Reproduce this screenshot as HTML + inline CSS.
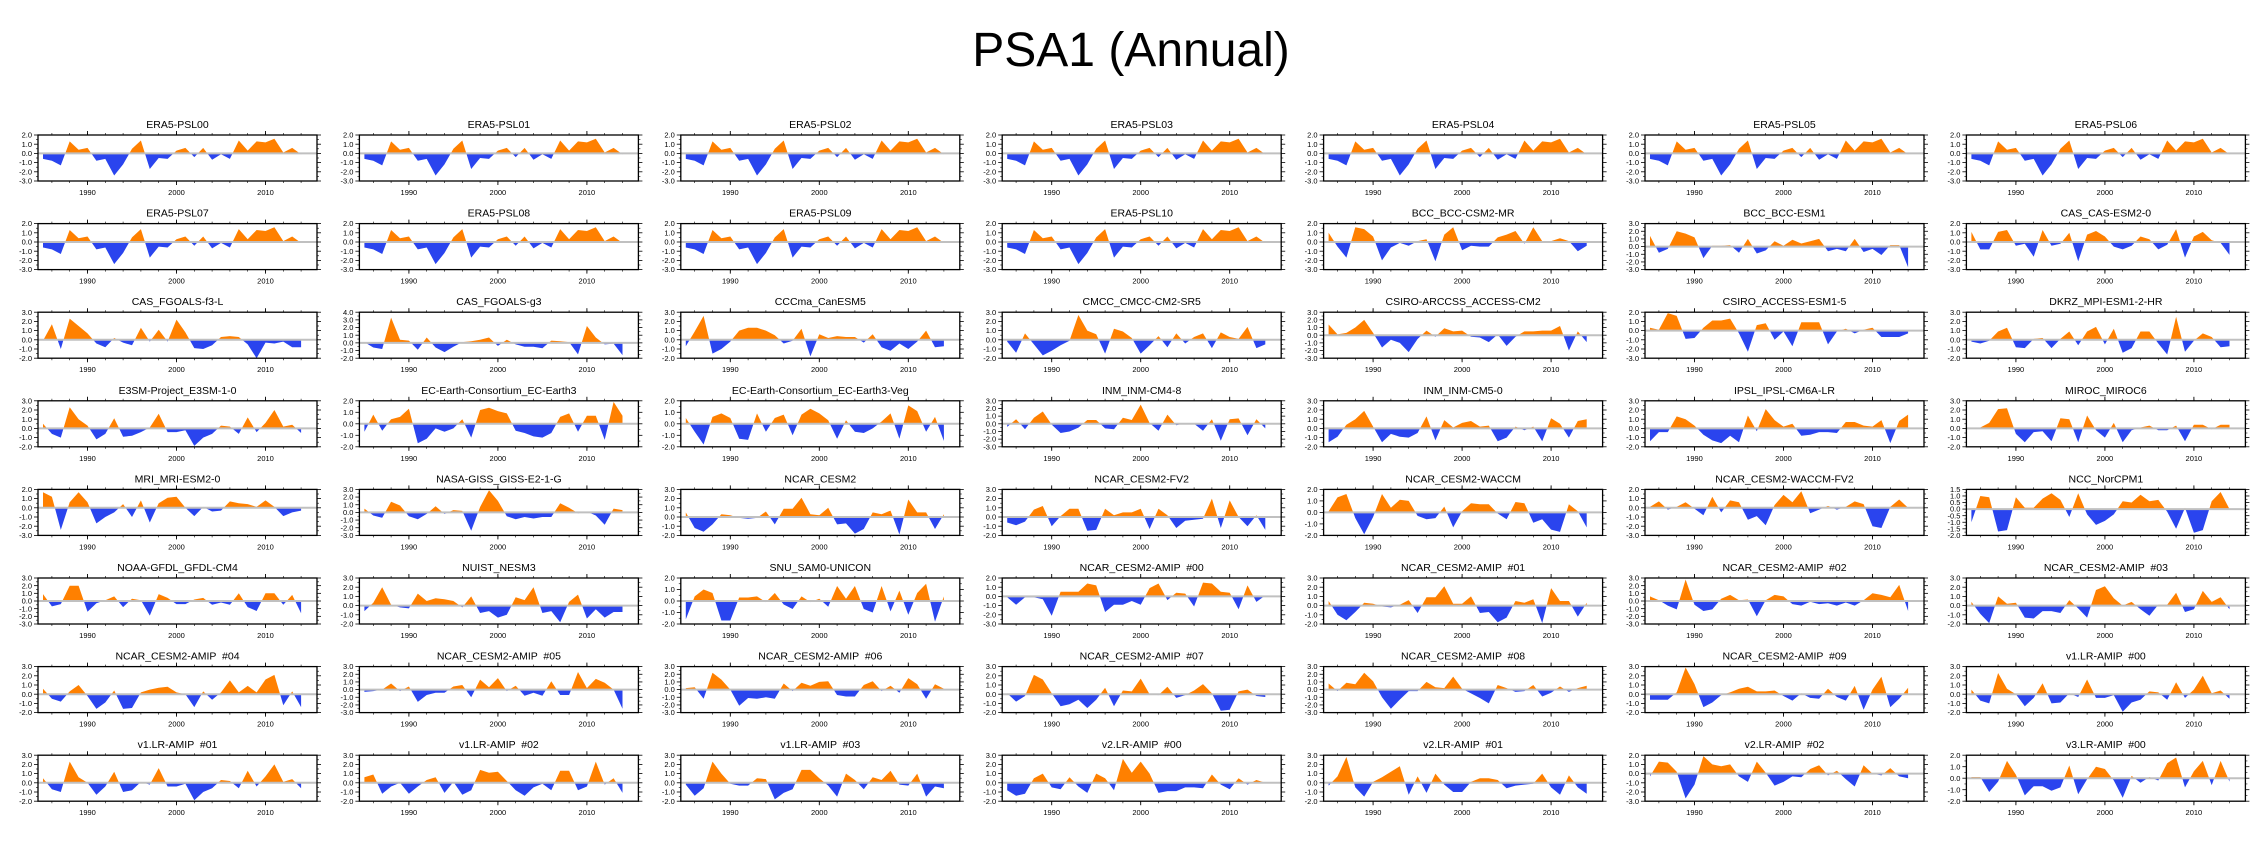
<!DOCTYPE html>
<html><head><meta charset="utf-8"><title>PSA1 (Annual)</title>
<style>
html,body{margin:0;padding:0;background:#fff;}
svg{display:block;font-family:"Liberation Sans",sans-serif;}
</style></head>
<body>
<svg id="chart" width="2265" height="849" viewBox="0 0 2265 849" xmlns="http://www.w3.org/2000/svg">
<text x="1131" y="66" text-anchor="middle" font-size="48" fill="#000">PSA1 (Annual)</text>
</svg>
<script>
const years = [1985,1986,1987,1988,1989,1990,1991,1992,1993,1994,1995,1996,1997,1998,1999,2000,2001,2002,2003,2004,2005,2006,2007,2008,2009,2010,2011,2012,2013,2014];
const yearTicks = [1990, 2000, 2010];
const panelTitles = [
"ERA5-PSL00","ERA5-PSL01","ERA5-PSL02","ERA5-PSL03","ERA5-PSL04","ERA5-PSL05","ERA5-PSL06",
"ERA5-PSL07","ERA5-PSL08","ERA5-PSL09","ERA5-PSL10","BCC_BCC-CSM2-MR","BCC_BCC-ESM1","CAS_CAS-ESM2-0",
"CAS_FGOALS-f3-L","CAS_FGOALS-g3","CCCma_CanESM5","CMCC_CMCC-CM2-SR5","CSIRO-ARCCSS_ACCESS-CM2","CSIRO_ACCESS-ESM1-5","DKRZ_MPI-ESM1-2-HR",
"E3SM-Project_E3SM-1-0","EC-Earth-Consortium_EC-Earth3","EC-Earth-Consortium_EC-Earth3-Veg","INM_INM-CM4-8","INM_INM-CM5-0","IPSL_IPSL-CM6A-LR","MIROC_MIROC6",
"MRI_MRI-ESM2-0","NASA-GISS_GISS-E2-1-G","NCAR_CESM2","NCAR_CESM2-FV2","NCAR_CESM2-WACCM","NCAR_CESM2-WACCM-FV2","NCC_NorCPM1",
"NOAA-GFDL_GFDL-CM4","NUIST_NESM3","SNU_SAM0-UNICON","NCAR_CESM2-AMIP  #00","NCAR_CESM2-AMIP  #01","NCAR_CESM2-AMIP  #02","NCAR_CESM2-AMIP  #03",
"NCAR_CESM2-AMIP  #04","NCAR_CESM2-AMIP  #05","NCAR_CESM2-AMIP  #06","NCAR_CESM2-AMIP  #07","NCAR_CESM2-AMIP  #08","NCAR_CESM2-AMIP  #09","v1.LR-AMIP  #00",
"v1.LR-AMIP  #01","v1.LR-AMIP  #02","v1.LR-AMIP  #03","v2.LR-AMIP  #00","v2.LR-AMIP  #01","v2.LR-AMIP  #02","v3.LR-AMIP  #00"];
const era5 = [-0.6,-0.8,-1.3,1.3,0.4,0.6,-0.8,-0.6,-2.4,-1.2,0.5,1.4,-1.7,-0.5,-0.6,0.3,0.6,-0.4,0.6,-0.7,-0.1,-0.6,1.4,0.3,1.3,1.2,1.6,0.1,0.6,-0.1];
const panelValues = [
era5,era5,era5,era5,era5,era5,era5,
era5,era5,era5,era5,
[1.0,-0.5,-1.7,1.6,1.4,0.6,-2.0,-0.6,-0.1,-0.4,0.1,0.3,-2.1,0.8,1.6,-0.9,-0.4,-0.5,-0.5,0.5,0.8,1.2,-0.2,1.6,0.1,0.1,0.4,0.1,-1.0,-0.4],
[1.4,-0.8,-0.3,2.0,1.7,1.2,-1.5,0.1,0.1,0.2,-0.8,1.0,-0.9,-0.5,0.7,0.1,0.9,0.4,0.7,1.0,-0.6,-0.3,-0.6,1.0,-0.7,-0.3,-1.1,0.2,0.2,-2.7],
[1.1,-0.8,-0.8,1.1,1.3,-0.4,-0.2,-1.6,1.3,-0.4,-0.2,1.0,-2.1,0.8,1.2,0.6,-0.5,-0.8,-0.4,0.6,0.3,-0.8,-0.3,1.4,-1.7,0.6,1.1,0.2,-0.1,-1.4],
[-0.1,1.7,-1.0,2.3,1.5,0.7,-0.4,-0.8,0.2,-0.3,-0.6,1.3,-0.2,1.1,-0.2,2.2,0.8,-0.9,-1.0,-0.6,0.3,0.4,0.3,-0.5,-2.0,-0.3,-0.4,-0.2,-0.8,-0.8],
[0.1,-0.6,-0.8,3.3,0.4,0.3,-0.9,0.7,-0.6,-1.2,-0.5,0.1,0.2,0.4,0.7,-0.4,0.4,-0.2,-0.5,-0.5,-0.7,0.3,0.2,0.1,-1.5,2.2,0.7,-0.2,-0.1,-1.6],
[-0.7,0.9,2.6,-1.5,-1.0,-0.2,1.0,1.3,1.3,1.0,0.5,-0.4,-0.1,1.2,-1.8,0.6,0.2,0.4,0.3,0.3,-0.3,0.6,-0.8,-1.2,-0.4,-1.0,-0.2,1.0,-0.8,-0.7],
[-0.2,-1.4,0.7,-0.5,-1.7,-1.2,-0.6,-0.1,2.7,1.0,0.6,-1.5,1.2,0.9,0.2,-1.5,-0.6,0.4,-0.8,0.7,-0.4,0.3,0.7,-0.9,0.8,0.3,0.1,1.4,-0.9,-0.5],
[1.4,0.1,0.3,1.0,2.0,0.3,-1.6,-0.6,-1.0,-2.2,-0.5,0.6,-0.2,0.9,0.5,0.6,-0.2,-0.3,-0.9,0.1,-1.4,-0.2,0.5,0.5,0.6,0.6,1.2,-2.0,0.5,-0.9],
[0.3,0.1,1.9,1.6,-0.9,-0.8,0.3,1.1,1.1,1.3,-0.3,-2.3,0.6,0.8,-1.0,-0.1,-1.7,0.9,0.9,0.9,-1.5,-0.1,0.2,-0.3,0.1,0.3,-0.7,-0.7,-0.7,-0.3],
[-0.2,-0.4,-0.1,0.9,1.3,-0.8,-0.9,0.1,0.2,-0.9,0.1,0.9,-0.6,0.9,1.4,-0.5,1.2,-1.4,-0.9,0.9,0.9,-0.4,-1.6,2.5,-1.3,-0.1,0.7,0.3,-0.8,-0.7],
[0.5,-0.6,-1.0,2.3,1.0,0.3,-1.2,-0.6,1.1,-0.9,-0.8,-0.4,0.1,1.6,-0.4,-0.4,-0.2,-1.9,-1.0,-0.6,0.3,0.2,-0.6,1.2,-0.4,0.6,2.0,0.2,0.4,-0.5],
[-0.7,0.8,-0.6,0.4,0.6,1.3,-1.7,-1.3,-0.4,-0.7,-0.4,0.4,-1.2,1.2,1.4,1.1,0.9,-0.6,-0.8,-1.1,-1.2,-0.8,0.6,0.9,-0.7,0.7,0.7,-1.4,1.9,0.7],
[0.5,-0.7,-1.8,0.6,0.9,0.5,-1.3,-1.4,0.9,-0.7,0.5,0.8,-1.0,0.8,1.3,0.9,0.3,-1.3,0.3,-0.7,-0.8,-0.4,0.2,0.9,-1.3,1.6,1.1,-0.7,0.6,-1.5],
[-0.4,0.6,-0.7,0.8,1.6,-0.1,-1.2,-1.0,-0.5,0.5,0.5,-0.6,-0.7,0.8,0.5,2.5,0.1,-0.9,1.2,-0.2,0.1,0.0,-0.9,0.6,-2.2,0.6,0.7,-1.5,0.6,-0.6],
[-1.5,-0.9,0.4,1.0,1.9,0.2,-1.5,-0.6,-0.9,-1.0,-0.5,1.3,-1.3,0.9,0.1,0.6,0.8,0.2,0.3,-1.4,-1.0,0.2,-0.2,0.2,-1.4,1.1,0.5,-1.0,0.8,1.0],
[-1.4,-0.4,-0.4,1.3,1.0,0.3,-0.7,-1.3,-1.6,-0.8,-1.5,1.4,-0.3,2.1,0.9,0.2,0.5,-0.8,-0.7,-0.4,-0.4,-0.5,0.7,0.7,0.3,0.2,0.9,-1.6,0.8,1.5],
[0.1,0.1,0.6,2.1,2.2,-0.6,-1.5,-0.4,-0.3,-1.4,1.1,1.0,-1.5,1.4,-0.2,-1.0,0.6,-1.5,-0.2,0.1,0.3,-0.2,-0.2,0.3,-1.4,0.4,0.4,-0.1,0.4,0.4],
[1.7,1.2,-2.4,0.6,1.7,0.6,-1.7,-1.0,-0.5,0.4,-1.0,0.8,-1.6,0.5,1.1,1.2,0.0,-0.9,0.1,-0.4,-0.3,0.7,0.5,0.4,0.1,0.8,0.1,-0.9,-0.5,-0.3],
[0.5,-0.4,-0.7,1.4,0.9,-0.5,-0.9,-0.2,0.8,-0.2,0.3,0.2,-2.4,0.7,2.9,1.5,-0.5,-0.9,-0.6,-0.8,-0.6,-0.6,1.2,0.6,-0.1,0.1,-0.4,-1.6,0.5,0.3],
[0.5,-1.2,-1.6,-0.8,0.3,0.2,-0.1,-0.2,-0.1,0.6,-0.8,0.9,0.9,2.1,0.3,0.2,1.0,-0.8,-0.7,-1.8,-1.3,0.5,0.3,0.7,-1.9,1.9,0.5,0.5,-1.3,0.3],
[-0.6,-0.9,-0.5,0.8,1.2,-1.0,0.1,0.9,0.9,-1.5,-1.4,0.9,0.2,0.5,0.5,0.9,-1.3,0.9,0.2,-1.2,-0.4,-0.3,-0.2,2.0,-1.2,1.8,0.0,-1.0,0.2,-1.4],
[0.1,1.3,1.6,-0.5,-1.9,-0.4,1.6,0.4,1.1,1.0,-0.3,-0.6,-0.5,0.5,-1.3,0.1,0.8,0.7,0.7,-0.1,-0.6,0.9,0.8,-0.9,-0.6,-1.5,-1.7,0.7,0.1,-1.3],
[0.1,0.7,-0.2,0.1,0.6,-0.1,-0.8,1.2,-0.5,0.8,0.6,-1.3,-0.9,-1.9,0.3,1.4,0.6,1.8,-0.6,-0.2,0.2,-0.2,0.1,0.7,0.4,-2.0,-2.2,0.1,0.9,0.0],
[-1.0,1.0,0.9,-1.7,-1.6,0.9,0.1,0.1,0.8,1.2,0.7,-0.6,1.2,-0.4,-1.2,-0.9,-0.4,0.6,0.5,1.1,0.6,0.7,-0.2,-1.5,0.1,-1.8,-1.6,0.6,1.3,0.0],
[0.9,-0.7,-0.4,2.0,2.0,-1.4,-0.3,0.1,0.6,-0.8,0.3,0.1,-1.9,0.9,0.4,-0.4,-0.4,0.2,0.4,-0.5,-0.2,-0.5,1.0,-0.8,-1.3,1.0,1.0,-0.5,0.8,-1.6],
[-0.6,0.3,2.0,0.1,-0.2,-0.3,1.3,0.5,0.8,0.7,0.5,-0.2,1.0,-0.8,-0.6,-1.3,-1.0,0.9,0.6,2.0,-0.8,-0.6,-1.8,0.4,1.2,-1.4,-0.4,-1.3,-0.7,-0.7],
[-1.6,0.4,1.0,0.7,-1.7,-1.7,0.3,0.3,0.4,-0.1,0.7,-0.3,-0.7,0.4,-0.1,0.2,-0.5,1.3,0.2,1.3,-0.7,-1.0,1.3,-0.9,0.9,-1.2,0.7,1.5,-1.8,0.4],
[-0.1,-0.9,-0.1,-0.1,-0.3,-2.1,0.5,0.5,0.5,1.4,1.2,-1.7,-0.9,-0.9,-0.5,-0.9,0.9,1.4,-0.4,0.4,0.3,-1.1,1.5,1.4,0.5,0.4,-1.4,1.2,-0.6,0.1],
[0.5,-1.0,-1.6,-0.7,0.3,0.2,-0.1,-0.2,0.1,0.6,-0.8,0.9,0.9,2.1,0.2,0.2,1.0,-0.8,-0.7,-1.8,-1.3,0.5,0.3,0.7,-1.9,1.9,0.5,0.5,-1.2,0.3],
[0.6,0.1,-0.6,-1.1,2.8,-0.5,-1.3,-1.1,0.3,0.8,0.1,0.2,-2.0,0.1,0.8,0.6,-0.4,-0.6,-0.1,-0.4,-0.3,-0.6,-0.2,-0.6,0.1,1.0,0.8,0.5,2.1,-1.3],
[0.4,-0.9,-1.9,1.0,0.2,0.3,-1.3,-1.4,-0.6,-0.6,-0.8,0.6,-0.3,-1.3,1.7,2.1,0.8,0.0,0.4,-0.4,-1.1,0.1,0.1,1.4,-0.7,-0.4,1.6,0.4,0.9,-0.4],
[0.6,-0.5,-0.8,0.3,1.0,-0.2,-1.6,-0.9,0.4,-1.6,-1.5,0.2,0.5,0.7,0.8,0.2,0.0,-1.4,0.3,-0.6,0.2,1.5,0.2,0.9,0.2,1.6,2.1,-1.2,0.3,-1.4],
[-0.3,-0.2,0.0,0.8,-0.2,0.4,-1.6,-0.7,-0.4,-0.4,0.4,0.6,-1.0,1.3,0.3,1.5,-0.2,0.5,-0.8,-0.4,-0.8,1.1,-0.7,-0.7,2.3,0.2,1.4,0.9,0.0,-2.5],
[0.2,0.3,-1.2,2.2,1.3,0.0,-2.1,-1.1,-1.2,-1.0,-1.2,0.8,-0.2,0.9,0.5,1.0,1.1,-0.7,-0.9,-0.9,0.6,1.1,-0.2,0.5,-0.4,1.5,0.7,-1.2,0.7,0.1],
[0.1,-0.8,-0.2,2.1,1.6,0.1,-1.3,-1.1,-0.6,-1.5,-0.6,0.7,-1.3,0.4,0.3,1.7,0.0,-0.1,0.8,-0.4,-0.1,0.4,1.1,0.1,-1.8,-1.7,0.3,0.5,-0.2,-0.3],
[0.8,-0.2,0.9,0.7,2.2,1.1,-1.0,-2.5,-1.3,-0.2,-0.2,1.0,0.3,0.2,1.7,0.1,-0.5,-1.1,-1.8,0.6,0.2,-0.3,-0.2,0.6,-0.9,-0.4,0.4,-0.3,0.2,0.5],
[-0.6,-0.6,-0.6,0.2,2.9,1.1,-1.4,-0.9,-0.1,0.2,0.6,0.8,0.3,0.3,0.4,-0.2,-0.7,0.1,-0.4,-0.5,0.6,-0.3,-0.7,0.9,-1.7,0.5,1.9,-1.4,-0.5,0.7],
[0.5,-0.7,-1.0,2.3,0.6,0.0,-1.3,-0.4,1.2,-1.0,-0.9,0.1,-0.3,1.6,-0.4,-0.4,-0.1,-1.9,-0.9,-0.6,0.3,0.2,-0.6,1.3,-0.4,0.5,2.0,0.1,0.4,-0.5],
[0.5,-0.7,-1.0,2.3,0.6,0.0,-1.3,-0.4,1.2,-1.0,-0.8,0.1,-0.2,1.6,-0.4,-0.4,-0.1,-1.9,-1.0,-0.6,0.3,0.2,-0.6,1.3,-0.4,0.7,2.0,0.1,0.4,-0.6],
[0.6,0.9,-1.2,-0.4,0.0,-1.2,-0.4,0.3,0.6,-1.1,0.1,-1.3,-0.8,1.4,1.1,1.2,0.2,-0.8,-1.4,-0.5,-0.1,-0.8,1.3,1.3,-0.8,-0.4,2.3,-0.2,0.5,-1.1],
[-0.2,-1.4,-0.6,2.3,1.0,-0.1,-0.3,-0.3,0.5,0.4,-1.8,-1.1,-0.7,1.4,1.4,0.5,-0.3,-1.5,1.0,0.3,-0.7,0.6,0.3,1.3,-0.2,-0.3,1.0,-1.5,-0.4,-0.6],
[-0.8,-1.4,-1.2,0.5,1.0,-0.5,-0.7,0.6,-0.4,-1.1,1.0,0.5,-0.8,2.6,1.1,2.3,1.0,-1.1,-0.9,-0.9,-0.5,-0.5,-0.6,0.9,-0.2,-0.7,0.5,-0.2,0.3,0.0],
[-0.3,0.7,2.8,-0.5,-1.5,0.1,0.6,1.2,1.8,-1.3,0.7,-1.1,1.0,-0.2,-1.0,-1.0,0.1,0.5,0.5,0.3,-0.6,-0.3,-0.2,-0.1,1.0,-0.5,-1.3,0.8,-0.5,-1.2],
[-0.3,1.3,1.2,0.2,-2.7,-1.2,1.9,1.0,0.8,1.0,-0.3,-0.9,1.3,0.1,-1.3,-0.9,-0.3,-0.4,0.5,0.9,-0.2,0.3,-0.6,-1.4,0.9,0.0,-0.2,0.6,-0.3,-0.5],
[0.1,0.1,-1.2,-0.3,1.5,0.3,-1.5,-0.7,-0.7,-1.1,-0.8,1.1,-1.4,-0.1,1.0,0.8,-0.2,-1.7,0.2,-0.4,0.1,-0.2,1.3,1.8,-0.8,0.6,1.5,-0.6,1.5,-0.3]];
const yRangeMin = [-3,-3,-3,-3,-3,-3,-3, -3,-3,-3,-3,-3,-3,-3, -2,-2,-2,-2,-3,-3,-2, -2,-2,-2,-3,-2,-2,-2, -3,-3,-2,-2,-2,-3,-2, -3,-2,-2,-3,-2,-3,-2, -2,-3,-3,-2,-3,-2,-2, -2,-2,-2,-2,-2,-3,-2];
const yRangeMax = [2,2,2,2,2,2,2, 2,2,2,2,2,3,2, 3,4,3,3,3,2,3, 3,2,2,3,3,3,3, 2,3,3,3,2,2,1.5, 3,3,2,2,3,3,3, 3,3,3,3,3,3,3, 3,3,3,3,3,2,2];
const yTickStep = [1,1,1,1,1,1,1, 1,1,1,1,1,1,1, 1,1,1,1,1,1,1, 1,1,1,1,1,1,1, 1,1,1,1,1,1,0.5, 1,1,1,1,1,1,1, 1,1,1,1,1,1,1, 1,1,1,1,1,1,1];

const NS = "http://www.w3.org/2000/svg";
const svg = document.getElementById("chart");
const PW = 279, PH = 46, X0 = 38, DX = 321.4, Y0 = 135, DY = 88.6;
function mk(tag, attrs, parent) {
  const e = document.createElementNS(NS, tag);
  for (const k in attrs) e.setAttribute(k, attrs[k]);
  (parent || svg).appendChild(e);
  return e;
}
panelTitles.forEach(function (title, i) {
  const c = i % 7, r = Math.floor(i / 7);
  const L = X0 + c * DX, T = Y0 + r * DY;
  const vals = panelValues[i], ymin = yRangeMin[i], ymax = yRangeMax[i];
  const xs = function (yr) { return L + 5 + (yr - 1985) * 8.9; };
  const ys = function (v) { return T + (ymax - v) / (ymax - ymin) * PH; };
  const g = mk("g", {});
  
  
  const z = ys(0);
  const cpA = mk("clipPath", { id: "ca" + i }, g);
  mk("rect", { x: L, y: T, width: PW, height: z - T }, cpA);
  const cpB = mk("clipPath", { id: "cb" + i }, g);
  mk("rect", { x: L, y: z, width: PW, height: T + PH - z }, cpB);
  let d = "M" + xs(years[0]).toFixed(1) + "," + z.toFixed(1);
  vals.forEach(function (v, k) { d += " L" + xs(years[k]).toFixed(1) + "," + ys(v).toFixed(1); });
  d += " L" + xs(years[years.length - 1]).toFixed(1) + "," + z.toFixed(1) + " Z";
  const pos = mk("path", { d: d, fill: "#ff8000", "clip-path": "url(#ca" + i + ")" }, g);
  
  
  const neg = mk("path", { d: d, fill: "#2a44ee", "clip-path": "url(#cb" + i + ")" }, g);
  
  
  const zl = mk("line", { x1: L, x2: L + PW, y1: z, y2: z, stroke: "#c0c0c0", "stroke-width": 2 }, g);
  
  
  const fr = mk("rect", { x: L, y: T, width: PW, height: PH, fill: "none", stroke: "#000", "stroke-width": 1.3 }, g);
  
  
  const tt = mk("text", { x: L + PW / 2, y: T - 7, "text-anchor": "middle", "font-size": 10.5, fill: "#000", "xml:space": "preserve", style: "white-space:pre" }, g);
  tt.textContent = title;
  
  
  const step = yTickStep[i];
  for (let v = ymin; v <= ymax + 1e-9; v += step) {
    const y = ys(v);
    mk("line", { x1: L - 4, x2: L, y1: y, y2: y, stroke: "#000", "stroke-width": 0.8 }, g);
    mk("line", { x1: L + PW, x2: L + PW + 4, y1: y, y2: y, stroke: "#000", "stroke-width": 0.8 }, g);
    const lb = mk("text", { x: L - 6, y: y + 2.6, "text-anchor": "end", "font-size": 7.5, fill: "#000" }, g);
    lb.textContent = v.toFixed(1);
    
    
    if (v + step / 2 <= ymax) {
      const ym = ys(v + step / 2);
      mk("line", { x1: L - 2, x2: L, y1: ym, y2: ym, stroke: "#000", "stroke-width": 0.6 }, g);
      mk("line", { x1: L + PW, x2: L + PW + 2, y1: ym, y2: ym, stroke: "#000", "stroke-width": 0.6 }, g);
    }
  }
  for (let yr = 1986; yr <= 2014; yr += 2) {
    const x = xs(yr);
    mk("line", { x1: x, x2: x, y1: T, y2: T - 2, stroke: "#000", "stroke-width": 0.6 }, g);
    mk("line", { x1: x, x2: x, y1: T + PH, y2: T + PH + 2, stroke: "#000", "stroke-width": 0.6 }, g);
  }
  yearTicks.forEach(function (yr) {
    const x = xs(yr);
    mk("line", { x1: x, x2: x, y1: T, y2: T - 4, stroke: "#000", "stroke-width": 0.9 }, g);
    mk("line", { x1: x, x2: x, y1: T + PH, y2: T + PH + 4, stroke: "#000", "stroke-width": 0.9 }, g);
    const xl = mk("text", { x: x, y: T + PH + 14, "text-anchor": "middle", "font-size": 7.5, fill: "#000" }, g);
    xl.textContent = String(yr);
    
    
  });
});
</script>
</body></html>
